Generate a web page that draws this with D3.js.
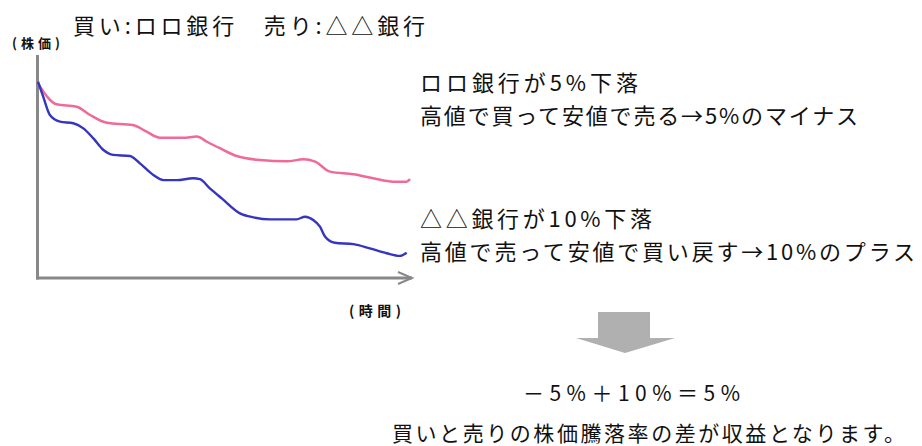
<!DOCTYPE html>
<html>
<head>
<meta charset="utf-8">
<script src="https://cdn.jsdelivr.net/npm/d3@7"></script>
<style>
  body { margin: 0; background: #fff; }
  text { font-family: "Noto Sans CJK JP", sans-serif; fill: #111; }
</style>
</head>
<body>
<div id="chart"></div>
<script>
// ロロ銀行 (買い) - pink line, 5% drop
let buyTime  = [0, 5.0, 10.4, 14.0, 18.5, 25.5, 29.2, 32.8, 39.0, 42.7, 45.4, 48.9, 53.4, 59.7, 66.9, 71.3, 74.5, 78.5, 84.8, 90.1, 95.5, 99.1, 100]
let buyPrice = [87.3, 77.9, 76.8, 73.1, 69.6, 68.6, 65.6, 62.9, 62.9, 63.4, 61.1, 58.2, 54.7, 52.9, 52.3, 53.2, 52.2, 47.7, 46.5, 44.7, 43.2, 43.2, 44.3]

// △△銀行 (売り) - blue line, 10% drop
let sellTime  = [0, 1.4, 3.2, 5.9, 9.5, 12.2, 14.9, 17.6, 20.2, 24.7, 27.4, 31.0, 33.7, 37.3, 41.7, 43.5, 46.2, 49.4, 54.3, 57.9, 62.4, 69.5, 71.8, 74.0, 75.8, 77.2, 79.8, 84.8, 89.2, 93.7, 97.3, 99.1]
let sellPrice = [88.0, 81.3, 73.1, 70.1, 69.4, 67.1, 62.6, 57.4, 55.2, 54.7, 51.4, 46.2, 43.9, 43.9, 44.7, 44.3, 40.2, 35.7, 29.0, 27.2, 26.3, 26.3, 27.5, 26.0, 23.0, 18.5, 15.8, 15.2, 13.3, 11.1, 9.9, 11.3]

let titleText = "買い:ロロ銀行　売り:△△銀行"
let yLabel = "(株価)"
let xLabel = "(時間)"
let notes = ["ロロ銀行が5%下落", "高値で買って安値で売る→5%のマイナス",
             "△△銀行が10%下落", "高値で売って安値で買い戻す→10%のプラス"]
let formula = "－5%＋10%＝5%"
let summary = "買いと売りの株価騰落率の差が収益となります。"

let svg = d3.select("#chart").append("svg")
svg.attr("width", 922)
   .attr("height", 446)

let x = d3.scaleLinear().domain([0, 100]).range([38, 410])
let y = d3.scaleLinear().domain([0, 100]).range([278, 55])

// axes
let axisGroup = svg.append("g")
axisGroup.append("line")
   .attr("x1", x(0) - 0.5).attr("x2", x(0) - 0.5)
   .attr("y1", y(100)).attr("y2", y(0) + 1.5)
   .attr("stroke", "#888").attr("stroke-width", 3)
axisGroup.append("line")
   .attr("x1", x(0) - 2).attr("x2", x(100) + 2)
   .attr("y1", y(0)).attr("y2", y(0))
   .attr("stroke", "#888").attr("stroke-width", 3)
axisGroup.append("path")
   .attr("d", `M${x(100) - 12},${y(0) - 6} L${x(100) + 2},${y(0)} L${x(100) - 12},${y(0) + 6}`)
   .attr("fill", "none").attr("stroke", "#888").attr("stroke-width", 2)

// lines
let line = d3.line()
   .x(d => x(d[0]))
   .y(d => y(d[1]))
   .curve(d3.curveMonotoneX)

svg.append("path")
   .datum(d3.zip(buyTime, buyPrice))
   .attr("d", line)
   .attr("fill", "none")
   .attr("stroke", "#ef6a98")
   .attr("stroke-width", 2.5)

svg.append("path")
   .datum(d3.zip(sellTime, sellPrice))
   .attr("d", line)
   .attr("fill", "none")
   .attr("stroke", "#3535c0")
   .attr("stroke-width", 2.4)

// texts
function addText(str, tx, ty, size, len, weight) {
  let t = svg.append("text")
     .attr("x", tx).attr("y", ty)
     .attr("font-size", size)
     .attr("font-weight", weight || "normal")
     .text(str)
  if (len) t.attr("textLength", len).attr("lengthAdjust", "spacing")
  return t
}

addText(titleText, 73, 34, 22, 352)
addText(yLabel, 12, 48, 13, 48, "bold")
addText(xLabel, 349, 316, 14, 52, "bold")
addText(notes[0], 420, 91, 22, 218)
addText(notes[1], 420, 124, 22, 438)
addText(notes[2], 420, 227, 22, 232)
addText(notes[3], 420, 260, 22, 495)
addText(formula, 523, 401, 21, 217)
addText(summary, 392, 441, 21, 513)

// down arrow
svg.append("path")
   .attr("d", "M598,312 L650,312 L650,338 L675,338 L625,353 L576,338 L598,338 Z")
   .attr("fill", "#b0b0b0")
</script>
</body>
</html>
